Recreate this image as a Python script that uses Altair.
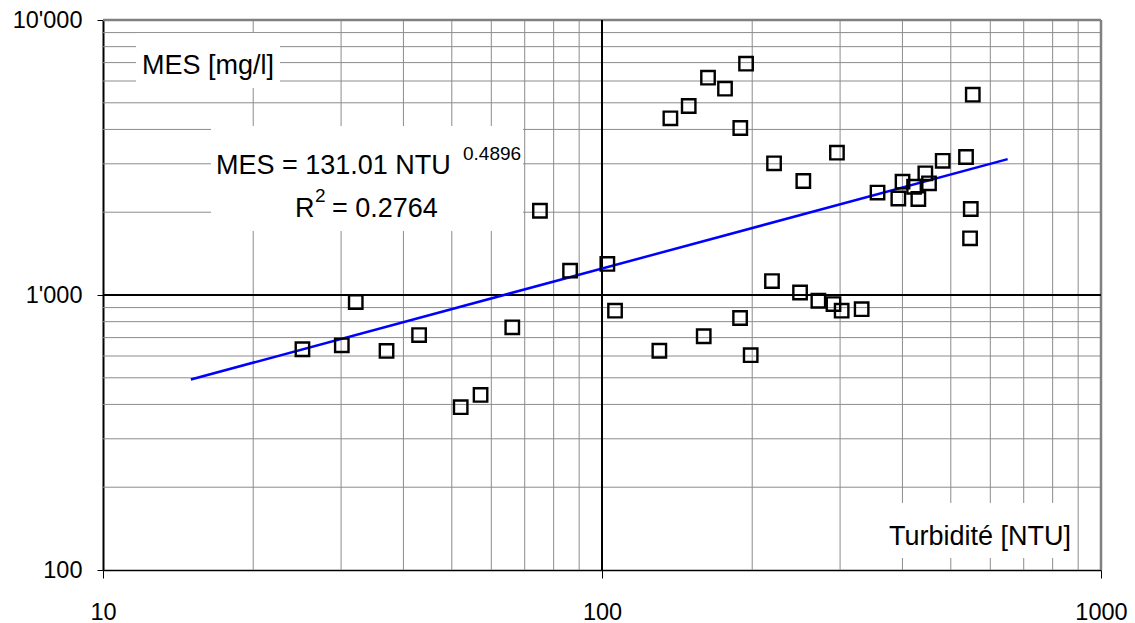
import altair as alt
import pandas as pd

# ---- data ----
turbidite = [25.1, 30.1, 32.1, 37.0, 43.0, 52.1, 57.1, 66.1, 75.1, 86.3, 102.5,
             106.2, 130.3, 137.1, 149.2, 159.9, 163.1, 176.4, 189.3, 189.1, 194.4,
             198.6, 219.1, 221.2, 249.4, 253.2, 271.4, 291.0, 295.7, 302.2, 331.4,
             356.6, 392.5, 400.2, 422.1, 430.5, 444.6, 452.2, 481.7, 536.4, 553.4,
             548.3, 546.5]
mes = [635, 656, 943, 626, 715, 391, 433, 763, 2025, 1226, 1297,
       877, 627, 4389, 4867, 708, 6169, 5626, 4048, 825, 6937,
       604, 1124, 3012, 1021, 2597, 953, 927, 3292, 877, 888,
       2358, 2243, 2582, 2476, 2234, 2770, 2548, 3076, 3175, 5350,
       2055, 1607]

trend_turbidite = [15, 650]
trend_mes = [493, 3120]

x_ticks = [10, 100, 1000]
x_tick_labels = ["10", "100", "1000"]
y_ticks = [100, 1000, 10000]
y_tick_labels = ["100", "1'000", "10'000"]
x_minor = [20, 30, 40, 50, 60, 70, 80, 90, 200, 300, 400, 500, 600, 700, 800, 900]
y_minor = [200, 300, 400, 500, 600, 700, 800, 900,
           2000, 3000, 4000, 5000, 6000, 7000, 8000, 9000]
x_major = [100]
y_major = [1000]

FONT = "Liberation Sans"

pts = pd.DataFrame({"turb": turbidite, "mes": mes})
trend = pd.DataFrame({"turb": trend_turbidite, "mes": trend_mes})

xs = alt.Scale(type="log", domain=[10, 1000])
ys = alt.Scale(type="log", domain=[100, 10000])


def expr_from(values, labels):
    e = '""'
    for v, l in zip(values, labels):
        e = f'datum.value == {v} ? "{l}" : ({e})'
    return e


ax_x = alt.Axis(values=x_ticks, labelExpr=expr_from(x_ticks, x_tick_labels),
                grid=False, tickSize=8, tickColor="black", tickWidth=1,
                domainColor="black", domainWidth=1.5,
                labelFont=FONT, labelFontSize=23.5, labelColor="black",
                labelPadding=22, labelFlush=False, labelOverlap=False)
ax_y = alt.Axis(values=y_ticks, labelExpr=expr_from(y_ticks, y_tick_labels),
                grid=False, tickSize=6, tickColor="black", tickWidth=1,
                domainColor="black", domainWidth=2,
                labelFont=FONT, labelFontSize=23.5, labelColor="black",
                labelPadding=15, labelFlush=False, labelOverlap=False)


def X(f):
    return alt.X(f, scale=xs, axis=ax_x, title=None)


def Y(f):
    return alt.Y(f, scale=ys, axis=ax_y, title=None)


one = pd.DataFrame({"d": [0]})

grid_x = alt.Chart(pd.DataFrame({"v": x_minor})).mark_rule(
    color="#8c8c8c", strokeWidth=1).encode(x=X("v:Q"))
grid_y = alt.Chart(pd.DataFrame({"v": y_minor})).mark_rule(
    color="#8c8c8c", strokeWidth=1).encode(y=Y("v:Q"))

border_top = alt.Chart(pd.DataFrame({"v": [y_ticks[-1]]})).mark_rule(
    color="#808080", strokeWidth=2.5).encode(y=Y("v:Q"))
border_right = alt.Chart(pd.DataFrame({"v": [x_ticks[-1]]})).mark_rule(
    color="#808080", strokeWidth=2.5).encode(x=X("v:Q"))

cross_x = alt.Chart(pd.DataFrame({"v": x_major})).mark_rule(
    color="black", strokeWidth=2).encode(x=X("v:Q"))
cross_y = alt.Chart(pd.DataFrame({"v": y_major})).mark_rule(
    color="black", strokeWidth=2).encode(y=Y("v:Q"))


def box(x1, x2, y1, y2):
    return alt.Chart(one).mark_rect(fill="white").encode(
        x=alt.value(x1), x2=alt.value(x2), y=alt.value(y1), y2=alt.value(y2))


def label(text, x, y, size=27):
    return alt.Chart(pd.DataFrame({"t": [text]})).mark_text(
        align="left", baseline="alphabetic", font=FONT, fontSize=size,
        color="black").encode(text="t:N", x=alt.value(x), y=alt.value(y))


boxes = [box(33, 177, 13, 68), box(108, 420, 106, 211), box(777, 972, 483, 538)]
texts = [
    label("MES [mg/l]", 39, 54),
    label("MES = 131.01 NTU", 113, 154),
    label("0.4896", 360, 140, 19),
    label("R", 192, 197),
    label("2", 212, 182, 19),
    label("= 0.2764", 229, 197),
    label("Turbidité [NTU]", 786, 525),
]

trend_line = alt.Chart(trend).mark_line(color="#0000ff", strokeWidth=2.5).encode(
    x=X("turb:Q"), y=Y("mes:Q"))

points = alt.Chart(pts).mark_point(
    shape="square", filled=False, color="black", size=180, strokeWidth=2.4,
    opacity=1).encode(x=X("turb:Q"), y=Y("mes:Q"))

chart = alt.layer(
    grid_x, grid_y, *boxes, border_top, border_right, cross_x, cross_y,
    trend_line, points, *texts
).properties(
    width=998, height=550,
    autosize=alt.AutoSizeParams(type="none"),
    padding={"left": 95, "top": 12, "right": 26, "bottom": 53},
    background="white",
).configure_view(stroke=None)

chart.save("out.html", embed_options={"renderer": "svg", "actions": False})
